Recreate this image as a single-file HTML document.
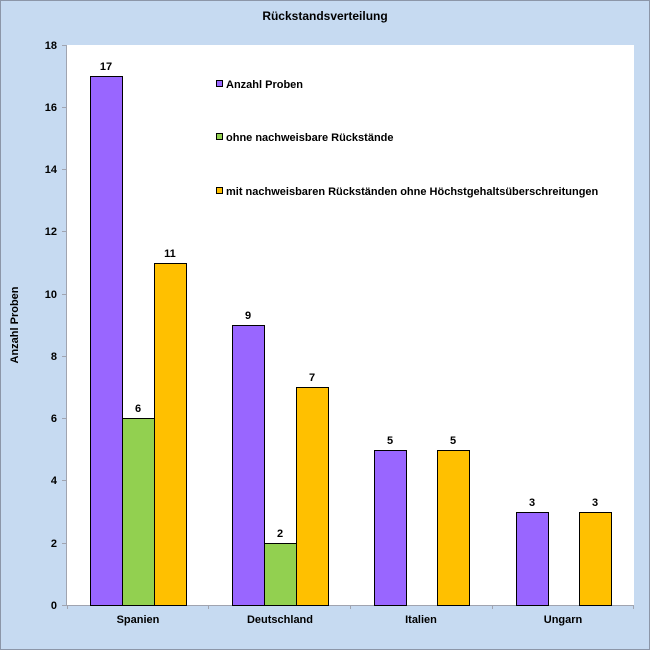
<!DOCTYPE html>
<html><head><style>body{margin:0}</style></head><body>
<svg width="650" height="650" xmlns="http://www.w3.org/2000/svg" font-family="Liberation Sans, Arial, sans-serif" font-weight="bold" font-size="11">
<rect x="0.5" y="0.5" width="649" height="649" fill="#c6daf1" stroke="#8c96a8"/>
<rect x="67" y="45" width="567" height="560" fill="#fff"/>
<text x="325" y="20" text-anchor="middle" font-size="12">Rückstandsverteilung</text>
<g stroke="#a0a4b0" stroke-width="1">
<line x1="66.5" y1="45" x2="66.5" y2="605"/>
<line x1="66" y1="605.5" x2="634" y2="605.5"/>
<line x1="62" y1="45.5" x2="66" y2="45.5"/><line x1="62" y1="107.5" x2="66" y2="107.5"/><line x1="62" y1="169.5" x2="66" y2="169.5"/><line x1="62" y1="231.5" x2="66" y2="231.5"/><line x1="62" y1="294.5" x2="66" y2="294.5"/><line x1="62" y1="356.5" x2="66" y2="356.5"/><line x1="62" y1="418.5" x2="66" y2="418.5"/><line x1="62" y1="480.5" x2="66" y2="480.5"/><line x1="62" y1="543.5" x2="66" y2="543.5"/><line x1="62" y1="605.5" x2="66" y2="605.5"/>
<line x1="67.5" y1="605" x2="67.5" y2="609"/><line x1="208.5" y1="605" x2="208.5" y2="609"/><line x1="350.5" y1="605" x2="350.5" y2="609"/><line x1="492.5" y1="605" x2="492.5" y2="609"/><line x1="633.5" y1="605" x2="633.5" y2="609"/>
</g>
<g text-anchor="end">
<text x="57" y="49">18</text><text x="57" y="111">16</text><text x="57" y="173">14</text><text x="57" y="235">12</text><text x="57" y="298">10</text><text x="57" y="360">8</text><text x="57" y="422">6</text><text x="57" y="484">4</text><text x="57" y="547">2</text><text x="57" y="609">0</text>
</g>
<text transform="translate(18,325) rotate(-90)" text-anchor="middle">Anzahl Proben</text>
<g text-anchor="middle">
<text x="138" y="623">Spanien</text><text x="280" y="623">Deutschland</text><text x="421" y="623">Italien</text><text x="563" y="623">Ungarn</text>
</g>
<g stroke="#000" stroke-width="1">
<rect x="90.5" y="76.5" width="32" height="529" fill="#9966ff"/>
<rect x="122.5" y="418.5" width="32" height="187" fill="#92d050"/>
<rect x="154.5" y="263.5" width="32" height="342" fill="#ffc000"/>
<rect x="232.5" y="325.5" width="32" height="280" fill="#9966ff"/>
<rect x="264.5" y="543.5" width="32" height="62" fill="#92d050"/>
<rect x="296.5" y="387.5" width="32" height="218" fill="#ffc000"/>
<rect x="374.5" y="450.5" width="32" height="155" fill="#9966ff"/>
<rect x="437.5" y="450.5" width="32" height="155" fill="#ffc000"/>
<rect x="516.5" y="512.5" width="32" height="93" fill="#9966ff"/>
<rect x="579.5" y="512.5" width="32" height="93" fill="#ffc000"/>
<rect x="216.5" y="80.5" width="6" height="6" fill="#9966ff"/>
<rect x="216.5" y="133.5" width="6" height="6" fill="#92d050"/>
<rect x="216.5" y="187.5" width="6" height="6" fill="#ffc000"/>
</g>
<g text-anchor="middle">
<text x="106" y="70">17</text><text x="138" y="412">6</text><text x="170" y="257">11</text>
<text x="248" y="319">9</text><text x="280" y="537">2</text><text x="312" y="381">7</text>
<text x="390" y="444">5</text><text x="453" y="444">5</text>
<text x="532" y="506">3</text><text x="595" y="506">3</text>
</g>
<text x="226" y="88">Anzahl Proben</text>
<text x="226" y="141">ohne nachweisbare Rückstände</text>
<text x="226" y="195">mit nachweisbaren Rückständen ohne Höchstgehaltsüberschreitungen</text>
</svg>
</body></html>
